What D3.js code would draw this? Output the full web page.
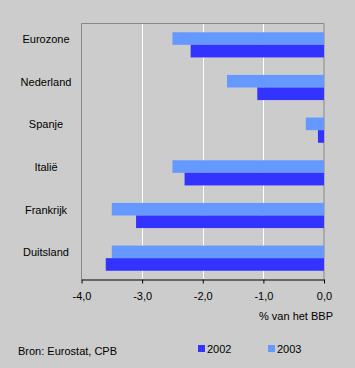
<!DOCTYPE html>
<html><head><meta charset="utf-8">
<script src="https://cdn.jsdelivr.net/npm/d3@7/dist/d3.min.js"></script>
<style>body{margin:0;background:#cccccc;}svg{display:block;font-family:"Liberation Sans",Arial,sans-serif;}</style>
</head><body>
<script>
const categories = ["Eurozone","Nederland","Spanje","Italië","Frankrijk","Duitsland"];
const series = ["2003","2002"];
const values2002 = [-2.2,-1.1,-0.1,-2.3,-3.1,-3.6];
const values2003 = [-2.5,-1.6,-0.3,-2.5,-3.5,-3.5];
const tickValues = [-4,-3,-2,-1,0];
const tickLabels = ["-4,0","-3,0","-2,0","-1,0","0,0"];
const colors = {"2002":"#3333ff","2003":"#6699ff"};

const W=355,H=368;
const svg=d3.select("body").append("svg").attr("width",W).attr("height",H);
svg.append("rect").attr("width",W).attr("height",H).attr("fill","#cccccc");
const L=81.5,R=324,T=23.5,B=279.5;
const x=d3.scaleLinear().domain([-4,0]).range([L,R]);
const y=d3.scaleBand().domain(categories).range([T,B]).paddingInner(0.41).paddingOuter(0.205);
const y1=d3.scaleBand().domain(series).range([0,y.bandwidth()]);

// gridlines
svg.append("g").selectAll("line").data(tickValues.slice(1,-1)).join("line")
  .attr("x1",d=>Math.round(x(d))+0.5).attr("x2",d=>Math.round(x(d))+0.5)
  .attr("y1",T).attr("y2",B).attr("stroke","#ffffff").attr("stroke-width",1);

// border
svg.append("path").attr("d",`M${L},${B}V${T}H${R}V${B}`).attr("fill","none").attr("stroke","#888888").attr("stroke-width",1);

const data=categories.map((c,i)=>({c,v:{"2002":values2002[i],"2003":values2003[i]}}));
const g=svg.append("g").selectAll("g").data(data).join("g").attr("transform",d=>`translate(0,${y(d.c)})`);
g.selectAll("rect").data(d=>series.map(s=>({s,v:d.v[s]}))).join("rect")
  .attr("x",d=>x(d.v)).attr("width",d=>x(0)-x(d.v))
  .attr("y",d=>y1(d.s)).attr("height",y1.bandwidth()).attr("fill",d=>colors[d.s]);

// category labels
svg.append("g").selectAll("text").data(categories).join("text")
  .attr("x",46).attr("y",d=>y(d)+y.bandwidth()/2-2)
  .attr("text-anchor","middle").attr("font-size","11px").attr("fill","#000").text(d=>d);

// x axis
const ax=svg.append("g").attr("transform",`translate(0,${B})`)
  .call(d3.axisBottom(x).tickValues(tickValues).tickFormat((d,i)=>tickLabels[i]).tickSize(4).tickSizeOuter(0));
ax.select(".domain").attr("stroke","#000");
ax.selectAll(".tick line").attr("stroke","#000");
ax.selectAll("text").attr("font-size","11px").attr("fill","#000").attr("font-family","Liberation Sans, Arial, sans-serif").attr("dy","0").attr("y",20);

svg.append("text").attr("x",333).attr("y",320).attr("text-anchor","end").attr("font-size","11px").text("% van het BBP");
svg.append("text").attr("x",18).attr("y",355).attr("font-size","11px").text("Bron: Eurostat, CPB");

const legend=[{s:"2002",x:198},{s:"2003",x:268}];
const lg=svg.append("g").selectAll("g").data(legend).join("g").attr("transform",d=>`translate(${d.x},345)`);
lg.append("rect").attr("width",7).attr("height",7).attr("fill",d=>colors[d.s]);
lg.append("text").attr("x",9).attr("y",7.5).attr("font-size","11px").text(d=>d.s);
</script>
</body></html>
